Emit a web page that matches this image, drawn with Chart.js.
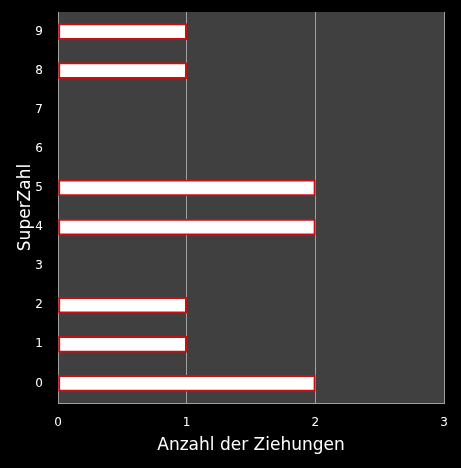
<!DOCTYPE html>
<html>
<head>
<meta charset="utf-8">
<script src="https://cdn.jsdelivr.net/npm/chart.js@4/dist/chart.umd.min.js"></script>
<style>
  html, body { margin: 0; padding: 0; background: #000; }
  #wrap { width: 461px; height: 468px; }
</style>
</head>
<body>
<div id="wrap"><canvas id="chart" width="461" height="468"></canvas></div>
<script>
// Data
const superZahlen = ["9", "8", "7", "6", "5", "4", "3", "2", "1", "0"];
const ziehungen = [1, 1, 0, 0, 2, 2, 0, 1, 1, 2];
const xTicks = [0, 1, 2, 3];

// Dark plot area background
const plotBackground = {
  id: "plotBackground",
  beforeDraw(chart) {
    const { ctx, chartArea: a } = chart;
    ctx.save();
    ctx.fillStyle = "#404040";
    ctx.fillRect(a.left, a.top, a.right - a.left, a.bottom - a.top);
    ctx.restore();
  }
};

Chart.defaults.font.family = "'DejaVu Sans', Verdana, sans-serif";
Chart.defaults.color = "#ffffff";

new Chart(document.getElementById("chart"), {
  type: "bar",
  data: {
    labels: superZahlen,
    datasets: [{
      data: ziehungen,
      backgroundColor: "#ffffff",
      borderColor: "#c81010",
      borderWidth: 2,
      borderSkipped: false,
      barThickness: 16
    }]
  },
  options: {
    indexAxis: "y",
    responsive: false,
    animation: false,
    layout: { padding: { top: 12, right: 17, left: 0, bottom: 0 } },
    plugins: { legend: { display: false }, tooltip: { enabled: false } },
    scales: {
      x: {
        min: 0,
        max: 3,
        afterBuildTicks: (axis) => { axis.ticks = xTicks.map(v => ({ value: v })); },
        afterFit: (axis) => { axis.height = 65; },
        grid: { color: "#a0a0a0", drawTicks: true, tickLength: 13, tickColor: "rgba(0,0,0,0)", lineWidth: 1 },
        border: { color: "#a0a0a0" },
        ticks: { color: "#ffffff", font: { size: 12 }, padding: 0 },
        title: {
          display: true,
          text: "Anzahl der Ziehungen",
          color: "#ffffff",
          font: { size: 17 },
          padding: { top: 4, bottom: 12 }
        }
      },
      y: {
        afterFit: (axis) => { axis.width = 58; },
        grid: { display: true, drawOnChartArea: false, drawTicks: true, tickLength: 15, tickColor: "rgba(0,0,0,0)" },
        border: { color: "#a0a0a0" },
        ticks: { color: "#ffffff", font: { size: 12 }, padding: 0 },
        title: {
          display: true,
          text: "SuperZahl",
          color: "#ffffff",
          font: { size: 17 },
          padding: { top: 15, bottom: 0 }
        }
      }
    }
  },
  plugins: [plotBackground]
});
</script>
</body>
</html>
